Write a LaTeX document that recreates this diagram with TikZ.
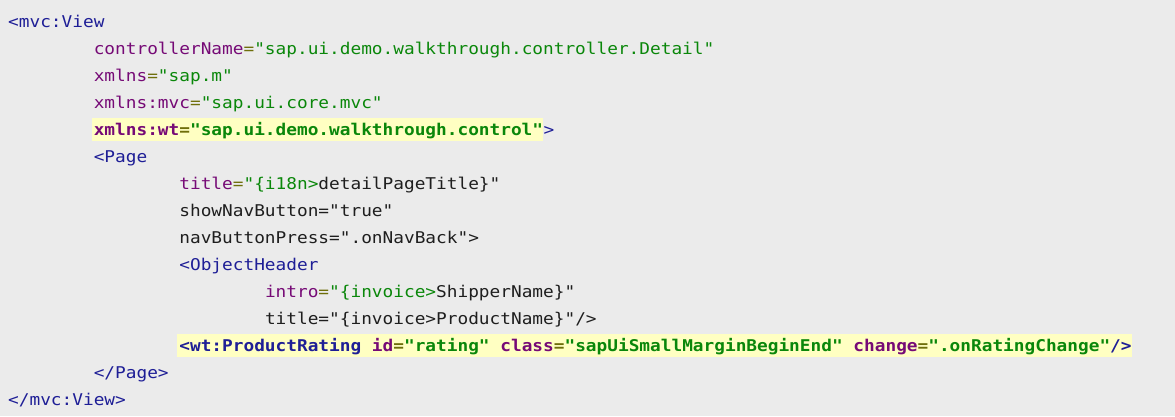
\documentclass[tikz,border=0pt]{standalone}
\usepackage{fontspec}
\newfontfamily\codefont[FakeStretch=1.097]{DejaVu Sans Mono}
\definecolor{bgc}{HTML}{EBEBEB}
\definecolor{hlc}{HTML}{FFFFC2}
\definecolor{tagc}{HTML}{1E1E96}
\definecolor{attc}{HTML}{760A76}
\definecolor{eqc}{HTML}{6E6E0A}
\definecolor{strc}{HTML}{0A870A}
\definecolor{txtc}{HTML}{1E1E1E}
\newcommand\TG[1]{\textcolor{tagc}{#1}}
\newcommand\AT[1]{\textcolor{attc}{#1}}
\newcommand\EQ{\textcolor{eqc}{=}}
\newcommand\ST[1]{\textcolor{strc}{#1}}
\tikzset{
  codeline/.style={anchor=base west, inner sep=0pt, text=txtc, font=\codefont\fontsize{16.2}{18}\selectfont},
  hlline/.style={codeline, font=\codefont\fontsize{16.2}{18}\selectfont\bfseries},
  hlbox/.style={fill=hlc, draw=none}
}
\begin{document}
\begin{tikzpicture}[x=1pt,y=-1pt]
\fill[bgc] (0,0) rectangle (1175,416);
\useasboundingbox (0,0) rectangle (1175,416);
% highlight bars
\fill[hlbox] (92,117.5) rectangle (542.5,141);
\fill[hlbox] (177,334) rectangle (1132,357);
% lines
\node[codeline] (l1)  at (8,27.7)      {\TG{<mvc:View}};
\node[codeline] (l2)  at (93.6,54.7)   {\AT{controllerName}\EQ\ST{"sap.ui.demo.walkthrough.controller.Detail"}};
\node[codeline] (l3)  at (93.6,81.7)   {\AT{xmlns}\EQ\ST{"sap.m"}};
\node[codeline] (l4)  at (93.6,108.7)  {\AT{xmlns:mvc}\EQ\ST{"sap.ui.core.mvc"}};
\node[hlline]   (l5)  at (93.6,135.7)  {\AT{xmlns:wt}\EQ\ST{"sap.ui.demo.walkthrough.control"}};
\node[codeline] (l5b) at (l5.base east) [anchor=base west] {\TG{>}};
\node[codeline] (l6)  at (93.6,162.7)  {\TG{<Page}};
\node[codeline] (l7)  at (179.2,189.7) {\AT{title}\EQ\ST{"\{i18n>}detailPageTitle\}"};
\node[codeline] (l8)  at (179.2,216.7) {showNavButton="true"};
\node[codeline] (l9)  at (179.2,243.7) {navButtonPress=".onNavBack">};
\node[codeline] (l10) at (179.2,270.7) {\TG{<ObjectHeader}};
\node[codeline] (l11) at (264.8,297.7) {\AT{intro}\EQ\ST{"\{invoice>}ShipperName\}"};
\node[codeline] (l12) at (264.8,324.7) {title="\{invoice>ProductName\}"/>};
\node[hlline]   (l13) at (179.2,351.7) {\TG{<wt:ProductRating} \AT{id}\EQ\ST{"rating"} \AT{class}\EQ\ST{"sapUiSmallMarginBeginEnd"} \AT{change}\EQ\ST{".onRatingChange"}\TG{/>}};
\node[codeline] (l14) at (93.6,378.7)  {\TG{</Page>}};
\node[codeline] (l15) at (8,405.7)     {\TG{</mvc:View>}};
\end{tikzpicture}
\end{document}
